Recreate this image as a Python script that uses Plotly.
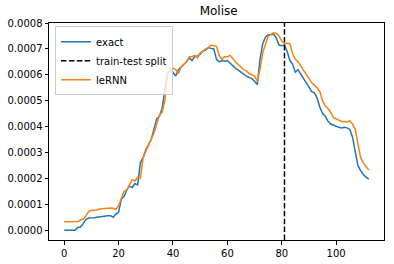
import plotly.graph_objects as go

# values in units of 1e-4
exact_e4 = [0.0, 0.0, 0.0, 0.0, 0.0, 0.1, 0.12, 0.25, 0.42, 0.47,
            0.47, 0.48, 0.5, 0.52, 0.54, 0.55, 0.56, 0.56, 0.5, 0.62,
            0.7, 1.2, 1.3, 1.55, 1.7, 1.65, 1.8, 1.75, 2.6, 2.8,
            3.1, 3.3, 3.5, 3.9, 4.3, 4.4, 4.7, 5.4, 6.1, 6.15,
            6.1, 5.95, 6.2, 6.3, 6.4, 6.5, 6.65, 6.55, 6.7, 6.73,
            6.8, 6.92, 6.95, 7.05, 7.02, 7.0, 6.6, 6.5, 6.55, 6.52,
            6.55, 6.45, 6.32, 6.25, 6.18, 6.1, 6.0, 5.95, 5.9, 5.85,
            5.75, 5.62, 6.6, 7.2, 7.45, 7.55, 7.55, 7.57, 7.42, 7.15,
            7.12, 7.15, 6.9, 6.55, 6.4, 6.1, 6.2, 6.0, 5.85, 5.7,
            5.5, 5.35, 5.3, 5.1, 4.75, 4.5, 4.4, 4.2, 4.1, 4.05,
            4.0, 3.97, 3.95, 3.97, 3.95, 3.9, 3.6, 3.0, 2.5, 2.3,
            2.15, 2.05, 1.97]
lernn_e4 = [0.32, 0.32, 0.32, 0.32, 0.32, 0.33, 0.4, 0.42, 0.55, 0.72,
            0.77, 0.77, 0.78, 0.82, 0.83, 0.85, 0.86, 0.86, 0.85, 0.8,
            0.95, 1.2, 1.5, 1.55, 1.75, 1.95, 1.9, 2.05, 2.0, 2.8,
            3.05, 3.3, 3.5, 3.75, 4.1, 4.45, 4.55, 5.0, 6.0, 6.25,
            6.25, 6.2, 6.05, 6.3, 6.4, 6.5, 6.7, 6.7, 6.75, 6.65,
            6.85, 6.9, 7.0, 7.05, 7.15, 7.12, 7.1, 6.75, 6.6, 6.7,
            6.7, 6.75, 6.6, 6.5, 6.4, 6.3, 6.2, 6.15, 6.05, 6.0,
            5.95, 5.75, 6.2, 6.85, 7.2, 7.5, 7.55, 7.62, 7.6, 7.5,
            7.3, 7.2, 7.22, 7.2, 6.8, 6.6, 6.5, 6.35, 6.2, 6.0,
            5.9, 5.7, 5.6, 5.5, 5.35, 5.0, 4.8, 4.7, 4.55, 4.35,
            4.3, 4.25, 4.2, 4.2, 4.18, 4.22, 4.1, 3.9, 3.4, 2.8,
            2.6, 2.45, 2.32]
days = list(range(len(exact_e4)))
exact = [v * 1e-4 for v in exact_e4]
lernn = [v * 1e-4 for v in lernn_e4]
split_day = 81
x_range = [-5.6, 117.6]
y_range = [-0.000038, 0.000800]
y_ticks = [0.0, 0.0001, 0.0002, 0.0003, 0.0004, 0.0005, 0.0006, 0.0007, 0.0008]
x_ticks = [0, 20, 40, 60, 80, 100]

fig = go.Figure()
fig.add_trace(go.Scatter(x=days, y=exact, mode="lines", name="exact",
                         line=dict(color="#1f77b4", width=1.5)))
fig.add_trace(go.Scatter(x=[split_day, split_day], y=y_range, mode="lines",
                         name="train-test split",
                         line=dict(color="black", width=1.5, dash="5.5px,2.4px")))
fig.add_trace(go.Scatter(x=days, y=lernn, mode="lines", name="leRNN",
                         line=dict(color="#ff7f0e", width=1.5)))

axis_common = dict(showgrid=False, zeroline=False, showline=True, mirror=True,
                   linecolor="black", linewidth=1, ticks="outside", ticklen=3.5,
                   tickwidth=1, tickcolor="black", automargin=False,
                   tickfont=dict(family="DejaVu Sans", size=10, color="black"))
fig.update_xaxes(range=x_range, tickvals=x_ticks, **axis_common)
fig.update_yaxes(range=y_range, tickvals=y_ticks, tickformat=".4f", **axis_common)

fig.update_layout(
    width=394, height=264,
    margin=dict(l=49, r=10, t=23, b=24),
    paper_bgcolor="white", plot_bgcolor="white",
    title=dict(text="Molise", x=0.555, xanchor="center", y=0.96, yanchor="middle",
               yref="container", automargin=False,
               font=dict(family="DejaVu Sans", size=12, color="black")),
    font=dict(family="DejaVu Sans", size=10, color="black"),
    legend=dict(x=0.018, y=0.985, xanchor="left", yanchor="top",
                bgcolor="rgba(255,255,255,0.8)", bordercolor="#cccccc", borderwidth=1,
                font=dict(size=10), tracegroupgap=0, itemwidth=30),
    showlegend=True,
)
fig.write_html("out.html", config={"displayModeBar": False},
               post_script="document.body.style.margin='0px';")
